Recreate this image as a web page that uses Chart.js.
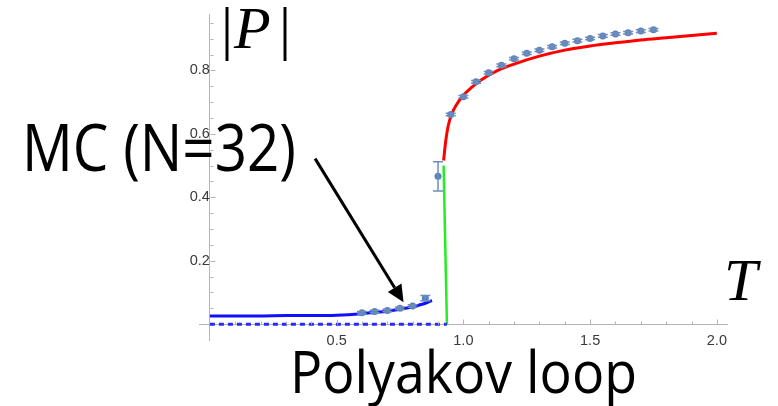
<!DOCTYPE html>
<html>
<head>
<meta charset="utf-8">
<script src="https://cdn.jsdelivr.net/npm/chart.js@4.4.1/dist/chart.umd.min.js"></script>
<style>
  html, body { margin: 0; padding: 0; background: #fff; }
</style>
</head>
<body>
<canvas id="polyakov-chart" width="778" height="406"></canvas>
<script>
// Monte Carlo points (N=32), with error
var mcT = [0.6, 0.65, 0.7, 0.75, 0.8, 0.85, 0.9, 0.95, 1.0, 1.05, 1.1, 1.15, 1.2, 1.25, 1.3,
  1.35, 1.4, 1.45, 1.5, 1.55, 1.6, 1.65, 1.7, 1.75];
var mcP = [0.036, 0.040, 0.043, 0.050, 0.057, 0.082, 0.466, 0.661, 0.717, 0.764, 0.793, 0.816,
  0.837, 0.854, 0.864, 0.875, 0.886, 0.894, 0.901, 0.909, 0.915, 0.919, 0.924, 0.928];
var mcErr = [0.004, 0.004, 0.004, 0.004, 0.004, 0.008, 0.046, 0.004, 0.004, 0.004, 0.004, 0.004,
  0.004, 0.004, 0.004, 0.004, 0.004, 0.004, 0.004, 0.004, 0.004, 0.004, 0.004, 0.004];

// low temperature branch (solid blue)
var blueT = [0, 0.1, 0.2, 0.3, 0.4, 0.5, 0.6, 0.65, 0.7, 0.75, 0.8, 0.85, 0.876];
var blueP = [0.026, 0.026, 0.026, 0.027, 0.027, 0.028, 0.033, 0.037, 0.041, 0.047, 0.055, 0.066, 0.075];

// confined branch |P| = 0 (dashed blue)
var dashT = [0, 0.935];
var dashP = [0, 0];

// unstable branch (green)
var greenT = [0.935, 0.922];
var greenP = [0, 0.5];

// deconfined branch (red)
var redT = [0.922, 0.93, 0.94, 0.955, 0.975, 1.0, 1.03, 1.07, 1.13, 1.2, 1.3, 1.4, 1.5, 1.6,
  1.7, 1.8, 1.9, 2.0];
var redP = [0.516, 0.575, 0.625, 0.664, 0.695, 0.722, 0.745, 0.770, 0.798, 0.820, 0.845, 0.864,
  0.877, 0.887, 0.896, 0.903, 0.910, 0.917];

var xTickLabels = ["0.5", "1.0", "1.5", "2.0"];
var yTickLabels = ["0.2", "0.4", "0.6", "0.8"];

function pts(xs, ys) {
  return xs.map(function (x, i) { return { x: x, y: ys[i] }; });
}

var axisGray = "#b5b5b5";
var mcColor = "#5e81b5";

// tick marks point inward like Mathematica
var tickMarks = {
  id: "tickMarks",
  afterDraw: function (chart) {
    var ctx = chart.ctx, xs = chart.scales.x, ys = chart.scales.y;
    var x0 = Math.round(xs.getPixelForValue(0)) + 0.5;
    var y0 = Math.round(ys.getPixelForValue(0)) + 0.5;
    ctx.save();
    ctx.strokeStyle = axisGray;
    ctx.lineWidth = 1;
    ctx.beginPath();
    for (var i = 1; i <= 20; i++) {
      var v = i / 10;
      var px = Math.round(xs.getPixelForValue(v)) + 0.5;
      var len = i % 5 === 0 ? 5 : 3;
      ctx.moveTo(px, y0);
      ctx.lineTo(px, y0 - len);
    }
    for (var j = 1; j <= 19; j++) {
      var w = j / 20;
      var py = Math.round(ys.getPixelForValue(w)) + 0.5;
      var l2 = j % 4 === 0 ? 5 : 3;
      ctx.moveTo(x0, py);
      ctx.lineTo(x0 + l2, py);
    }
    ctx.stroke();
    ctx.restore();
  }
};

var errorBars = {
  id: "errorBars",
  afterDatasetsDraw: function (chart) {
    var ctx = chart.ctx, xs = chart.scales.x, ys = chart.scales.y;
    ctx.save();
    ctx.strokeStyle = "#6d8dc0";
    ctx.lineWidth = 1.5;
    ctx.beginPath();
    mcT.forEach(function (t, i) {
      var px = xs.getPixelForValue(t);
      var top = ys.getPixelForValue(mcP[i] + mcErr[i]);
      var bot = ys.getPixelForValue(mcP[i] - mcErr[i]);
      ctx.moveTo(px, top); ctx.lineTo(px, bot);
      ctx.moveTo(px - 5, top); ctx.lineTo(px + 5, top);
      ctx.moveTo(px - 5, bot); ctx.lineTo(px + 5, bot);
    });
    ctx.stroke();
    ctx.restore();
  }
};

function squashText(ctx, text, font, x, baseline, width) {
  ctx.save();
  ctx.font = font;
  var w = ctx.measureText(text).width;
  ctx.translate(x, baseline);
  ctx.scale(width / w, 1);
  ctx.fillText(text, 0, 0);
  ctx.restore();
}

var overlay = {
  id: "overlay",
  afterDraw: function (chart) {
    var ctx = chart.ctx, xs = chart.scales.x, ys = chart.scales.y;
    ctx.save();
    ctx.fillStyle = "#000";
    ctx.textBaseline = "alphabetic";
    ctx.textAlign = "left";

    // |P| and T
    ctx.font = "60px 'Liberation Serif'";
    ctx.fillText("|", 221, 48);
    ctx.fillText("|", 279, 48);
    ctx.font = "italic 60px 'Liberation Serif'";
    ctx.fillText("P", 234, 48);
    ctx.fillText("T", 724, 300);

    squashText(ctx, "MC (N=32)", "66px 'Open Sans'", 22, 171, 274);
    squashText(ctx, "Polyakov loop", "58px 'Open Sans'", 290, 393, 347);

    // arrow to the MC points
    var ax = xs.getPixelForValue(0.415), ay = ys.getPixelForValue(0.522);
    var bx = xs.getPixelForValue(0.764), by = ys.getPixelForValue(0.069);
    var ang = Math.atan2(by - ay, bx - ax);
    var head = 17, half = 8;
    var hx = bx - head * Math.cos(ang), hy = by - head * Math.sin(ang);
    ctx.strokeStyle = "#000";
    ctx.lineWidth = 3;
    ctx.beginPath();
    ctx.moveTo(ax, ay);
    ctx.lineTo(hx, hy);
    ctx.stroke();
    ctx.beginPath();
    ctx.moveTo(bx, by);
    ctx.lineTo(hx + half * Math.sin(ang), hy - half * Math.cos(ang));
    ctx.lineTo(hx - half * Math.sin(ang), hy + half * Math.cos(ang));
    ctx.closePath();
    ctx.fill();
    ctx.restore();
  }
};

var tickFont = { family: "'Liberation Sans', Arial, sans-serif", size: 14.5 };

new Chart(document.getElementById("polyakov-chart"), {
  type: "scatter",
  data: {
    datasets: [
      {
        data: pts(mcT, mcP),
        pointRadius: 3.5,
        pointBackgroundColor: mcColor,
        pointBorderWidth: 0,
        showLine: false,
        order: 1,
      },
      {
        data: pts(blueT, blueP),
        showLine: true,
        borderColor: "#1010ff",
        borderWidth: 3,
        pointRadius: 0,
        cubicInterpolationMode: "monotone",
        order: 2,
      },
      {
        data: pts(dashT, dashP),
        showLine: true,
        borderColor: "#2a2aff",
        borderWidth: 3,
        borderDash: [5, 4],
        pointRadius: 0,
        order: 2,
      },
      {
        data: pts(greenT, greenP),
        showLine: true,
        borderColor: "#22ee22",
        borderWidth: 2.5,
        pointRadius: 0,
        order: 2,
      },
      {
        data: pts(redT, redP),
        showLine: true,
        borderColor: "#ff0000",
        borderWidth: 3,
        pointRadius: 0,
        cubicInterpolationMode: "monotone",
        order: 2,
      },
    ],
  },
  options: {
    responsive: false,
    animation: false,
    devicePixelRatio: 1,
    layout: { padding: { left: 199, right: 51, top: 14, bottom: 66 } },
    plugins: { legend: { display: false }, tooltip: { enabled: false } },
    scales: {
      x: {
        type: "linear",
        min: -0.043,
        max: 2.04,
        position: { y: 0 },
        afterBuildTicks: function (scale) {
          scale.ticks = xTickLabels.map(function (s) { return { value: parseFloat(s) }; });
        },
        ticks: {
          autoSkip: false,
          maxRotation: 0,
          padding: 8,
          color: "#3a3a3a",
          font: tickFont,
          callback: function (v, i) { return xTickLabels[i]; },
        },
        grid: { drawOnChartArea: false, drawTicks: false },
        border: { color: axisGray, width: 1 },
      },
      y: {
        type: "linear",
        min: -0.05,
        max: 0.978,
        position: { x: 0 },
        afterBuildTicks: function (scale) {
          scale.ticks = yTickLabels.map(function (s) { return { value: parseFloat(s) }; });
        },
        ticks: {
          autoSkip: false,
          padding: 5,
          color: "#3a3a3a",
          font: tickFont,
          callback: function (v, i) { return yTickLabels[i]; },
        },
        grid: { drawOnChartArea: false, drawTicks: false },
        border: { color: axisGray, width: 1 },
      },
    },
  },
  plugins: [tickMarks, errorBars, overlay],
});
</script>
</body>
</html>
